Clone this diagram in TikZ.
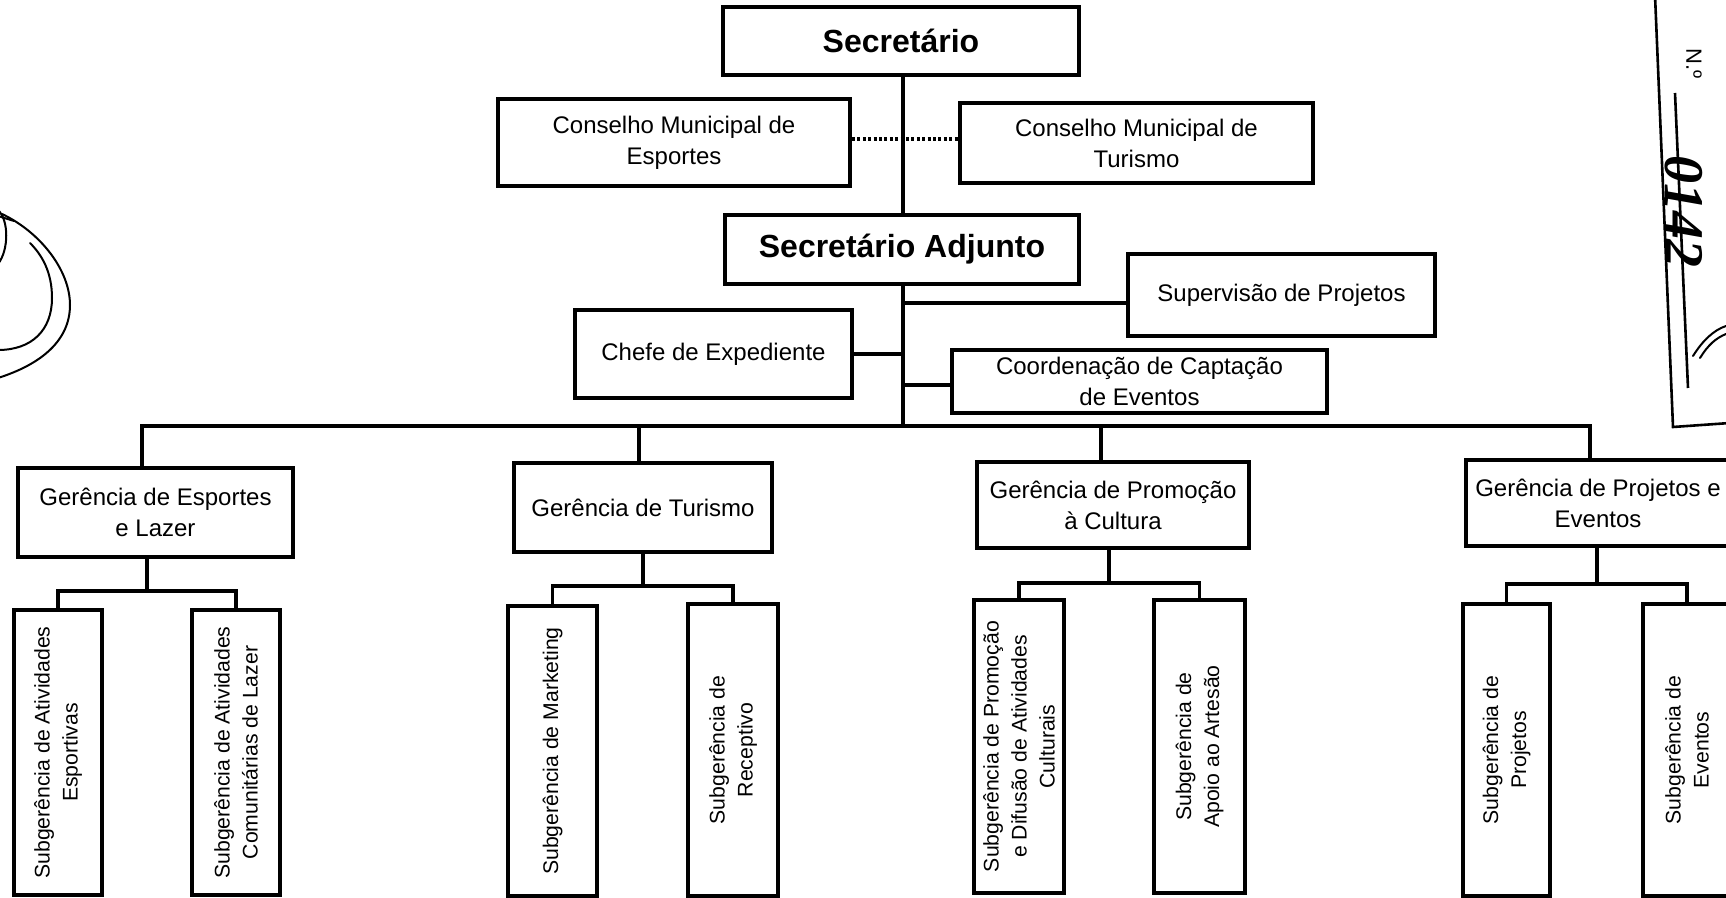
\documentclass[tikz,border=0pt]{standalone}
\usepackage{fontspec}
\setmainfont{Liberation Sans}
\newfontfamily\handfont{Liberation Serif}
\usetikzlibrary{calc}
\begin{document}
\begin{tikzpicture}[x=0.5pt,y=-0.5pt,
  box/.style={draw, line width=2pt, inner sep=0pt, align=center,
    font=\fontsize{12}{15.5}\selectfont},
  head/.style={box, font=\bfseries\fontsize{16}{19}\selectfont},
  subbox/.style={draw, line width=2pt, inner sep=0pt, rotate=90, align=center,
    font=\fontsize{10.6}{14}\selectfont},
  conn/.style={line width=1.7pt},
  link/.style={line width=1.6pt, dash pattern=on 1.5pt off 1.2pt},
  ink/.style={line width=1pt, line cap=round}]
\clip (0,0) rectangle (1726,898);

% --- upper hierarchy ---
\node[head, minimum width=178pt, minimum height=34pt] (sec) at (901,41) {Secretário};
\node[box, minimum width=176pt, minimum height=43.5pt] (cme) at (674,142.5)
  {Conselho Municipal de\\Esportes};
\node[box, minimum width=176.5pt, minimum height=40pt] (cmt) at (1136.5,143)
  {Conselho Municipal de\\Turismo};
\node[head, minimum width=177pt, minimum height=34.5pt] (adj) at (902,249.5)
  {Secretário Adjunto};
\node[box, minimum width=153.5pt, minimum height=41pt] (sup) at (1281.5,295)
  {Supervisão de Projetos};
\node[box, minimum width=138.5pt, minimum height=44pt] (chefe) at (713.5,354)
  {Chefe de Expediente};
\node[box, minimum width=187.5pt, minimum height=31.5pt] (coord) at (1139.5,381.5)
  {Coordenação de Captação\\de Eventos};

% --- managements ---
\node[box, minimum width=137.5pt, minimum height=44.5pt] (ge) at (155.5,512.5)
  {Gerência de Esportes\\e Lazer};
\node[box, minimum width=129pt, minimum height=44.5pt] (gt) at (643,507.5)
  {Gerência de Turismo};
\node[box, minimum width=136pt, minimum height=43pt] (gp) at (1113,505)
  {Gerência de Promoção\\à Cultura};
\node[box, minimum width=132pt, minimum height=43pt] (gpe) at (1598,503)
  {Gerência de Projetos e\\Eventos};

% --- sub-managements (vertical text) ---
\node[subbox, minimum width=142.5pt, minimum height=44pt] (s1) at (58,752.5)
  {Subgerência de Atividades\\Esportivas};
\node[subbox, minimum width=142.5pt, minimum height=44pt] (s2) at (236,752.5)
  {Subgerência de Atividades\\Comunitárias de Lazer};
\node[subbox, minimum width=145pt, minimum height=44.5pt] (s3) at (552.5,751)
  {Subgerência de Marketing};
\node[subbox, minimum width=146pt, minimum height=45pt] (s4) at (733,750)
  {Subgerência de\\Receptivo};
\node[subbox, minimum width=146.5pt, minimum height=45pt] (s5) at (1019,746.5)
  {Subgerência de Promoção\\e Difusão de Atividades\\Culturais};
\node[subbox, minimum width=146.5pt, minimum height=45.5pt] (s6) at (1199.5,746.5)
  {Subgerência de\\Apoio ao Artesão};
\node[subbox, minimum width=146pt, minimum height=43.5pt] (s7) at (1506.5,750)
  {Subgerência de\\Projetos};
\node[subbox, minimum width=146pt, minimum height=44pt] (s8) at (1687,750)
  {Subgerência de\\Eventos};

% --- trunk and side branches ---
\coordinate (tr) at (903,426);
\draw[conn] (sec.south -| tr) -- (adj.north -| tr);
\draw[conn] (adj.south -| tr) -- (tr);
\coordinate (dt) at (903,139);
\draw[link] (dt -| cme.east) -- (dt -| cmt.west);
\coordinate (bs) at (903,303);
\draw[conn] (bs) -- (bs -| sup.west);
\draw[conn] (chefe.east) -- (chefe.east -| tr);
\coordinate (bc) at (903,385);
\draw[conn] (bc) -- (bc -| coord.west);

% --- bus to the managements ---
\coordinate (d1) at (142,426);
\coordinate (d2) at (639,426);
\coordinate (d3) at (1101,426);
\coordinate (d4) at (1590,426);
\draw[conn] (d1 |- ge.north) -- (d1) -- (d4) -- (d4 |- gpe.north);
\draw[conn] (d2) -- (d2 |- gt.north);
\draw[conn] (d3) -- (d3 |- gp.north);

% --- management to sub-management brackets ---
\coordinate (b1) at (147,591);
\draw[conn] (ge.south -| b1) -- (b1);
\draw[conn] (s1) -- (s1 |- b1) -- (s2 |- b1) -- (s2);
\coordinate (b2) at (643,586);
\draw[conn] (gt.south -| b2) -- (b2);
\draw[conn] (s3) -- (s3 |- b2) -- (s4 |- b2) -- (s4);
\coordinate (b3) at (1109,583);
\draw[conn] (gp.south -| b3) -- (b3);
\draw[conn] (s5) -- (s5 |- b3) -- (s6 |- b3) -- (s6);
\coordinate (b4) at (1597,584);
\draw[conn] (gpe.south -| b4) -- (b4);
\draw[conn] (s7) -- (s7 |- b4) -- (s8 |- b4) -- (s8);

% --- filing stamp at the right margin ---
\draw[line width=1.3pt] (1655,-5) -- (1673,427) -- (1730,423);
\draw[line width=1.3pt] (1675,93) -- (1688,388);
\node[rotate=-90, font=\fontsize{11}{11}\selectfont, inner sep=0pt] (no) at (1694,64) {N.º};
\node[rotate=-90, font=\handfont\itshape\bfseries\fontsize{28}{28}\selectfont, inner sep=0pt]
  (num) at (1684,212) {0142};
\draw[ink] (1693,356) .. controls (1703,340) and (1714,330) .. (1726,326);
\draw[ink] (1700,358) .. controls (1708,345) and (1716,338) .. (1726,334);

% --- pen scribble at the left margin ---
\draw[ink] (-2,378) .. controls (42,364) and (70,340) .. (70,305)
  .. controls (70,270) and (40,232) .. (2,214);
\draw[ink] (-2,350) .. controls (32,350) and (52,330) .. (52,298)
  .. controls (52,272) and (42,255) .. (30,243);
\draw[ink] (-2,210) .. controls (9,220) and (9,250) .. (-2,264);
\draw[ink] (-2,216) -- (14,221);
\end{tikzpicture}
\end{document}
